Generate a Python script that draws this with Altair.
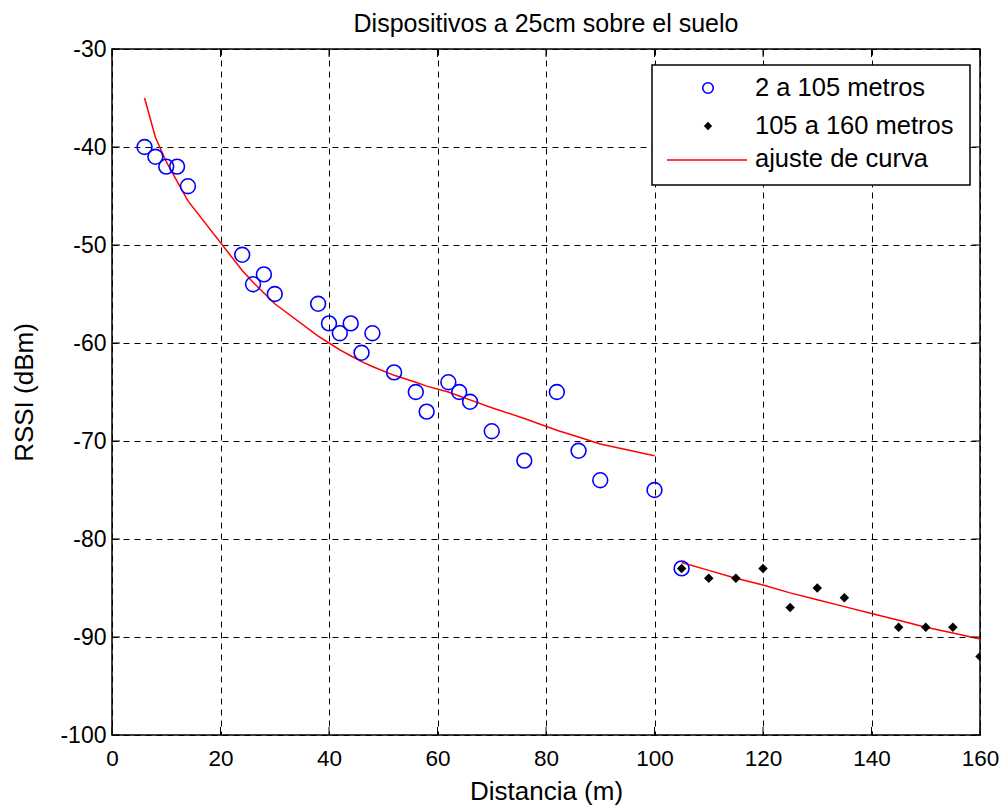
import altair as alt
import pandas as pd

# Data
blue_x = [6, 8, 10, 12, 14, 24, 26, 28, 30, 38, 40, 42, 44, 46, 48, 52, 56, 58,
          62, 64, 66, 70, 76, 82, 86, 90, 100, 105]
blue_y = [-40, -41, -42, -42, -44, -51, -54, -53, -55, -56, -58, -59, -58, -61,
          -59, -63, -65, -67, -64, -65, -66, -69, -72, -65, -71, -74, -75, -83]

black_x = [105, 110, 115, 120, 125, 130, 135, 145, 150, 155, 160]
black_y = [-83, -84, -84, -83, -87, -85, -86, -89, -89, -89, -92]

fit1_x = [6, 8, 10, 12, 14, 24, 26, 28, 30, 38, 40, 42, 44, 46, 48, 52, 56, 58,
          62, 64, 66, 70, 76, 82, 86, 90, 100]
fit1_y = [-35, -39, -41.5, -43.5, -45.5, -52.6, -53.8, -54.9, -56.0, -59.3, -60.0,
          -60.7, -61.3, -61.9, -62.4, -63.3, -64.0, -64.4, -65.0, -65.4, -65.8,
          -66.6, -67.7, -68.9, -69.6, -70.3, -71.5]

fit2_x = [105, 110, 115, 120, 125, 130, 135, 140, 145, 150, 155, 160]
fit2_y = [-82.4, -83.2, -84.0, -84.7, -85.5, -86.2, -86.9, -87.6, -88.3, -89.0,
          -89.6, -90.2]

legend_labels = ["2 a 105 metros", "105 a 160 metros", "ajuste de curva"]

title_text = "Dispositivos a 25cm sobre el suelo"
x_title = "Distancia (m)"
y_title = "RSSI (dBm)"
x_ticks = [0, 20, 40, 60, 80, 100, 120, 140, 160]
y_ticks = [-100, -90, -80, -70, -60, -50, -40, -30]

FONT = "Liberation Sans"
W, H = 868, 686

blue_df = pd.DataFrame({"x": blue_x, "y": blue_y})
black_df = pd.DataFrame({"x": black_x, "y": black_y})
fit1_df = pd.DataFrame({"x": fit1_x, "y": fit1_y, "seg": 1})
fit2_df = pd.DataFrame({"x": fit2_x, "y": fit2_y, "seg": 2})
fit_df = pd.concat([fit1_df, fit2_df], ignore_index=True)
xt_df = pd.DataFrame({"x": x_ticks})
yt_df = pd.DataFrame({"y": y_ticks})
one = pd.DataFrame({"k": [0]})

xs = alt.Scale(domain=[0, 160], nice=False, zero=False)
ys = alt.Scale(domain=[-100, -30], nice=False, zero=False)

x_axis = alt.Axis(values=x_ticks, title=x_title, grid=True, labelFlush=False,
                  labelExpr="toString(datum.value)")
y_axis = alt.Axis(values=y_ticks, title=y_title, grid=True, labelFlush=False,
                  labelExpr="toString(datum.value)")

base_x = alt.X("x:Q", scale=xs, axis=x_axis)
base_y = alt.Y("y:Q", scale=ys, axis=y_axis)

lines = alt.Chart(fit_df).mark_line(color="#ff0000", strokeWidth=1.5).encode(
    x=base_x, y=base_y, detail="seg:N", order="x:Q"
)

blue = alt.Chart(blue_df).mark_point(
    shape="circle", filled=False, color="#0000ff", size=220, strokeWidth=1.6, opacity=1
).encode(x=alt.X("x:Q", scale=xs), y=alt.Y("y:Q", scale=ys))

black = alt.Chart(black_df).mark_point(
    shape="diamond", filled=True, color="#000000", size=90, opacity=1, clip=True
).encode(x=alt.X("x:Q", scale=xs), y=alt.Y("y:Q", scale=ys))

# inward tick marks on all four sides (MATLAB style)
TL = 8
tick_b = alt.Chart(xt_df).mark_rule(color="black", strokeWidth=1).encode(
    x=alt.X("x:Q", scale=xs), y=alt.value(H - TL), y2=alt.value(H))
tick_t = alt.Chart(xt_df).mark_rule(color="black", strokeWidth=1).encode(
    x=alt.X("x:Q", scale=xs), y=alt.value(0), y2=alt.value(TL))
tick_l = alt.Chart(yt_df).mark_rule(color="black", strokeWidth=1).encode(
    y=alt.Y("y:Q", scale=ys), x=alt.value(0), x2=alt.value(TL))
tick_r = alt.Chart(yt_df).mark_rule(color="black", strokeWidth=1).encode(
    y=alt.Y("y:Q", scale=ys), x=alt.value(W - TL), x2=alt.value(W))

# Legend (drawn manually to mimic the MATLAB legend box)
leg_box = alt.Chart(one).mark_rect(fill="white", stroke="black", strokeWidth=1.5).encode(
    x=alt.value(540), x2=alt.value(858), y=alt.value(16), y2=alt.value(136)
)
leg_c = alt.Chart(one).mark_point(
    shape="circle", filled=False, color="#0000ff", size=110, strokeWidth=1.6, opacity=1
).encode(x=alt.value(596), y=alt.value(39))
leg_d = alt.Chart(one).mark_point(
    shape="diamond", filled=True, color="#000000", size=70, opacity=1
).encode(x=alt.value(596), y=alt.value(77))
leg_l = alt.Chart(one).mark_rule(color="#ff0000", strokeWidth=1.5).encode(
    x=alt.value(555), x2=alt.value(635), y=alt.value(111)
)
leg_texts = [
    alt.Chart(one).mark_text(
        align="left", baseline="middle", font=FONT, fontSize=25.5, color="black"
    ).encode(x=alt.value(643), y=alt.value(yy), text=alt.value(t))
    for t, yy in zip(legend_labels, [39, 77, 110])
]

chart = alt.layer(
    lines, blue, black, tick_b, tick_t, tick_l, tick_r,
    leg_box, leg_c, leg_d, leg_l, *leg_texts
).properties(
    width=W,
    height=H,
    autosize=alt.AutoSizeParams(type="none"),
    padding={"left": 104, "top": 41, "right": 19, "bottom": 80},
    title=alt.TitleParams(title_text, font=FONT, fontSize=25, fontWeight="normal",
                          color="black", offset=1, anchor="middle"),
).configure_view(
    stroke="black", strokeWidth=1.5
).configure_axis(
    domain=False,
    ticks=False,
    gridColor="black",
    gridDash=[6, 5],
    gridOpacity=1,
    gridWidth=1,
    labelFont=FONT,
    labelFontSize=23,
    labelColor="black",
    titleFont=FONT,
    titleFontSize=26,
    titleFontWeight="normal",
    titleColor="black",
).configure_axisX(
    labelPadding=12, titlePadding=9, labelFontSize=22.5
).configure_axisY(
    labelPadding=6, titlePadding=22
)

chart.save("out.html", embed_options={"renderer": "svg", "actions": False})
